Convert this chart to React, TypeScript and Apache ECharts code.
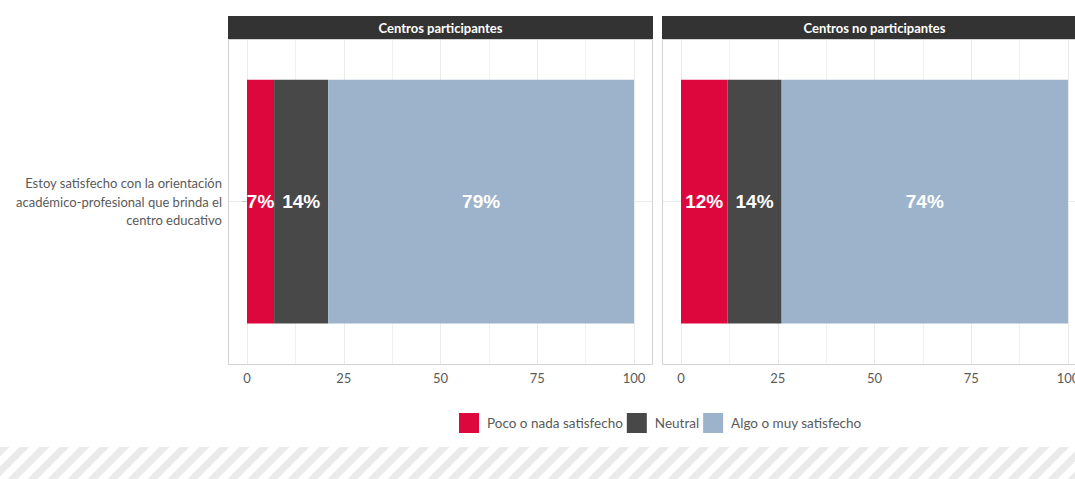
import React, { useEffect, useRef } from "react";
import * as echarts from "echarts";

const categories = [
  "Estoy satisfecho con la orientación\nacadémico-profesional que brinda el\ncentro educativo",
];
const panels = ["Centros participantes", "Centros no participantes"];
const levels = ["Poco o nada satisfecho", "Neutral", "Algo o muy satisfecho"];
const levelColors = ["#DE073D", "#484848", "#9DB3CC"];
const participantes = [7, 14, 79];
const noParticipantes = [12, 14, 74];
const panelValues = [participantes, noParticipantes];

const W = 1075;
const H = 479;
// layout (pixels)
const gridLefts = [247, 681];
const gridWidth = 387;
const gridTop = 39;
const gridHeight = 325;
const panelPad = 19;
const stripTop = 16;
const FONT = "Lato, 'Open Sans', sans-serif";
const TEXT = "#5A5A5A";

export default function App() {
  const ref = useRef<HTMLDivElement>(null);

  useEffect(() => {
    if (!ref.current) return;
    const chart = echarts.init(ref.current, undefined, { renderer: "svg" });

    const grids = gridLefts.map((l) => ({
      left: l,
      top: gridTop,
      width: gridWidth,
      height: gridHeight,
      containLabel: false,
      outerBoundsMode: "none",
    }));

    const xAxes = gridLefts.map((_, i) => ({
      type: "value",
      gridIndex: i,
      min: 0,
      max: 100,
      interval: 25,
      axisLine: { show: false },
      axisTick: { show: false },
      minorTick: { show: false, splitNumber: 2 },
      axisLabel: { fontFamily: FONT, fontSize: 13, color: TEXT, margin: 7 },
      splitLine: { show: true, lineStyle: { color: "#EBEBEB", width: 1 } },
      minorSplitLine: { show: true, lineStyle: { color: "#F1F1F1", width: 1 } },
    }));

    const yAxes = gridLefts.map((_, i) => ({
      type: "category",
      gridIndex: i,
      data: categories,
      offset: panelPad,
      axisLine: { show: false },
      axisTick: {
        show: i === 0,
        alignWithLabel: true,
        length: 5,
        lineStyle: { color: "#CCCCCC" },
      },
      axisLabel: {
        show: i === 0,
        fontFamily: FONT,
        fontSize: 13,
        color: TEXT,
        align: "right",
        lineHeight: 18.5,
        margin: 6,
      },
      splitLine: { show: false },
    }));

    const series: any[] = [];
    panelValues.forEach((vals, p) => {
      levels.forEach((lvl, k) => {
        series.push({
          type: "bar",
          name: lvl,
          xAxisIndex: p,
          yAxisIndex: p,
          stack: "s" + p,
          barWidth: "75%",
          itemStyle: { color: levelColors[k] },
          label: {
            show: true,
            position: "inside",
            formatter: (d: any) => d.value + "%",
            color: "#FFFFFF",
            fontFamily: "'Liberation Sans', Arial, sans-serif",
            fontWeight: "bold",
            fontSize: 19,
          },
          data: [vals[k]],
        });
      });
    });

    const graphics: any[] = [];
    gridLefts.forEach((l, p) => {
      const px = l - panelPad;
      const pw = gridWidth + panelPad * 2;
      graphics.push({
        type: "rect",
        shape: { x: px + 0.5, y: gridTop + 0.5, width: pw - 1, height: gridHeight },
        style: { fill: "none", stroke: "#D2D2D2", lineWidth: 1 },
        z: 5,
        silent: true,
      });
      graphics.push({
        type: "line",
        shape: {
          x1: px,
          y1: gridTop + gridHeight / 2,
          x2: px + pw,
          y2: gridTop + gridHeight / 2,
        },
        style: { stroke: "#EBEBEB", lineWidth: 1 },
        z: 0,
        silent: true,
      });
      graphics.push({
        type: "rect",
        shape: { x: px, y: stripTop, width: pw, height: gridTop - stripTop },
        style: { fill: "#333333" },
        z: 6,
        silent: true,
      });
      graphics.push({
        type: "text",
        x: px + pw / 2,
        y: (stripTop + gridTop) / 2,
        style: {
          text: panels[p],
          fill: "#FFFFFF",
          font: `bold 13px ${FONT}`,
          align: "center",
          verticalAlign: "middle",
        },
        z: 7,
        silent: true,
      });
    });

    chart.setOption({
      animation: false,
      backgroundColor: "#FFFFFF",
      grid: grids,
      xAxis: xAxes,
      yAxis: yAxes,
      series,
      legend: {
        data: levels,
        left: 459,
        top: 413,
        padding: 0,
        icon: "rect",
        itemWidth: 20,
        itemHeight: 20,
        itemGap: 4,
        selectedMode: false,
        textStyle: {
          fontFamily: FONT,
          fontSize: 13.5,
          color: TEXT,
          padding: [0, 0, 0, 3],
        },
      },
      graphic: graphics,
    });

    return () => chart.dispose();
  }, []);

  return (
    <div style={{ position: "absolute", left: 0, top: 0, width: W, height: H, background: "#fff" }}>
      <div ref={ref} style={{ position: "absolute", left: 0, top: 0, width: W, height: H }} />
      <div
        style={{
          position: "absolute",
          left: 0,
          top: 447,
          width: W,
          height: H - 447,
          backgroundImage:
            "repeating-linear-gradient(135deg, #EBEBEB 0px, #EBEBEB 7px, #FFFFFF 7px, #FFFFFF 14.14px)",
        }}
      />
    </div>
  );
}
